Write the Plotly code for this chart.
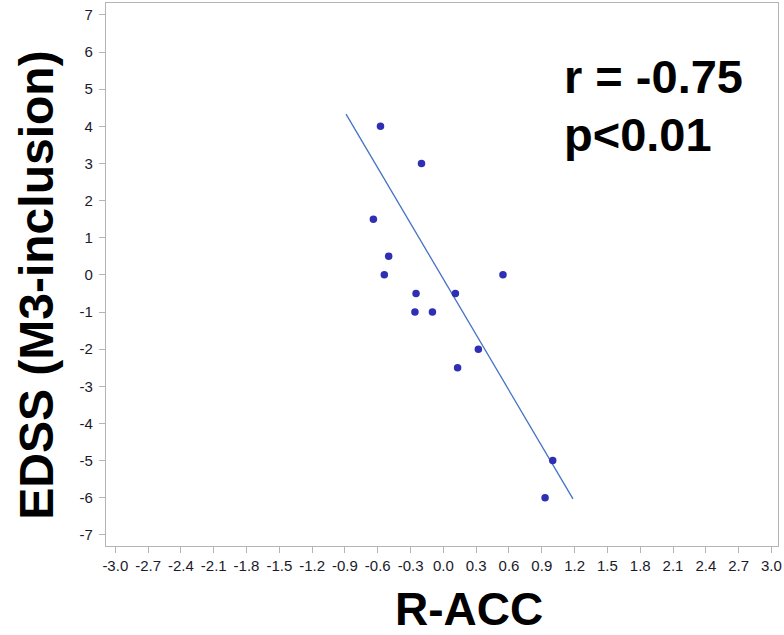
import plotly.graph_objects as go

# R-ACC values and EDSS change (M3-inclusion) for each subject
r_acc = [-0.575, -0.20, -0.64, -0.50, -0.54, 0.545, -0.25, 0.11, -0.26, -0.10, 0.32, 0.13, 1.00, 0.93]
edss = [4.0, 3.0, 1.5, 0.5, 0.0, 0.0, -0.5, -0.5, -1.0, -1.0, -2.0, -2.5, -5.0, -6.0]

# regression line end points
fit_x = [-0.89, 1.185]
fit_y = [4.33, -6.03]

x_ticks = [round(-3.0 + 0.3 * i, 1) for i in range(21)]
y_ticks = list(range(-7, 8))

stats_r = "r = -0.75"
stats_p = "p&lt;0.01"

fig = go.Figure()
fig.add_trace(go.Scatter(
    x=fit_x, y=fit_y, mode="lines",
    line=dict(color="#4472C4", width=1.3),
    showlegend=False, hoverinfo="skip",
))
fig.add_trace(go.Scatter(
    x=r_acc, y=edss, mode="markers",
    marker=dict(color="#2F2FB4", size=7.5, line=dict(width=0)),
    showlegend=False,
))

axis_common = dict(
    showgrid=False, zeroline=False, showline=True, mirror=True,
    linecolor="#B4B4B4", linewidth=1.3,
    ticks="outside", ticklen=6, tickwidth=1.3, tickcolor="#B4B4B4",
    tickfont=dict(family="Liberation Sans, Arial, sans-serif", size=15, color="#1a1a2a"),
    ticklabeloverflow="allow",
)

fig.update_xaxes(range=[-3.085, 3.06], tickvals=x_ticks,
                 ticktext=[f"{v:.1f}" for v in x_ticks], **axis_common)
fig.update_yaxes(range=[-7.3, 7.32], tickvals=y_ticks,
                 ticktext=[f"{v:d}" for v in y_ticks], ticklabelstandoff=3, **axis_common)

fig.add_annotation(text="<b>R-ACC</b>", xref="paper", yref="paper", x=0.54, y=(546 - 608.5) / 543,
                   xanchor="center", yanchor="middle", showarrow=False,
                   font=dict(family="Liberation Sans, Arial, sans-serif", size=46, color="black"))
fig.add_annotation(text="<b>EDSS (M3-inclusion)</b>", xref="paper", yref="paper", x=-0.1036, y=0.48,
                   xanchor="center", yanchor="middle", textangle=-90, showarrow=False,
                   font=dict(family="Liberation Sans, Arial, sans-serif", size=48, color="black"))

stats_font = dict(family="Liberation Sans, Arial, sans-serif", size=47, color="black")
fig.add_annotation(text=f"<b>{stats_r}</b>", xref="paper", yref="paper", x=0.679, y=(546 - 77) / 543,
                   xanchor="left", yanchor="middle", showarrow=False, font=stats_font)
fig.add_annotation(text=f"<b>{stats_p}</b>", xref="paper", yref="paper", x=0.679, y=(546 - 134) / 543,
                   xanchor="left", yanchor="middle", showarrow=False, font=stats_font)

fig.update_layout(
    width=784, height=635,
    margin=dict(l=106, r=2, t=3, b=89),
    paper_bgcolor="white", plot_bgcolor="white",
)

fig.write_html("out.html")
